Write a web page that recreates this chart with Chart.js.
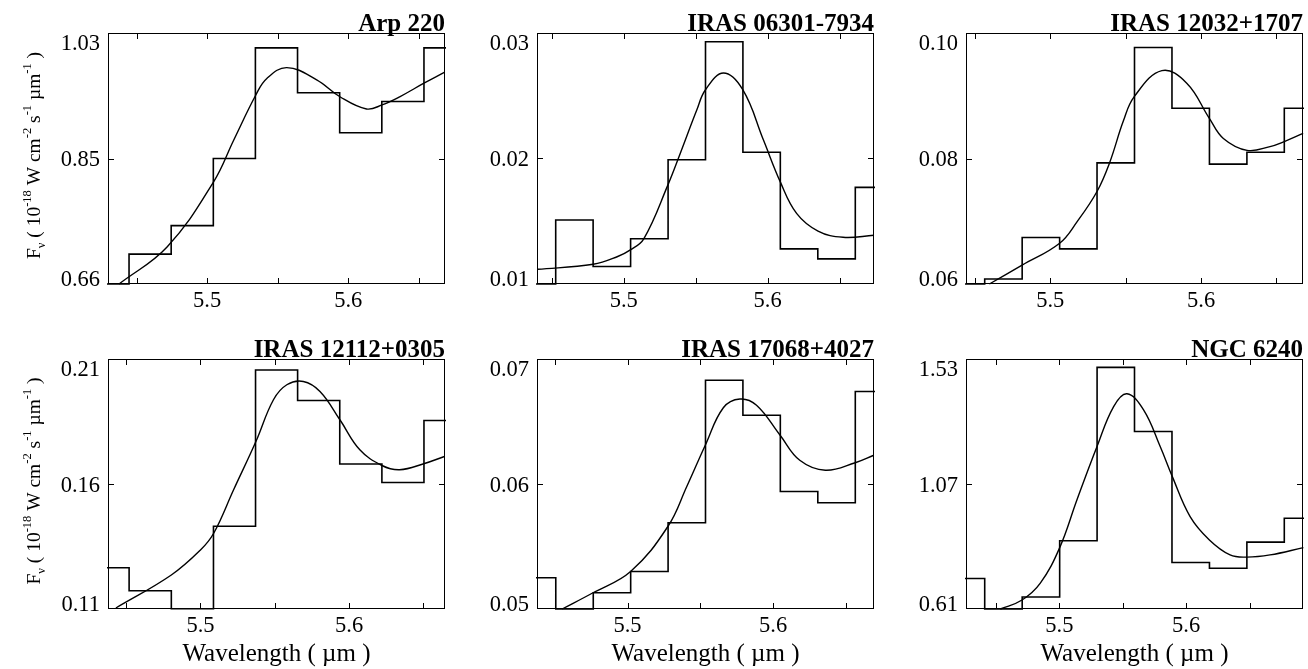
<!DOCTYPE html>
<html lang="en">
<head>
  <meta charset="UTF-8" />
  <title>5.5 micron band</title>
  <script src="https://cdn.jsdelivr.net/npm/chart.js@4.4.1/dist/chart.umd.min.js"></script>
  <style>
    body { margin: 0; background: #fff; }
    #wrap { position: relative; width: 1308px; height: 669px; overflow: hidden; }
    #wrap canvas { position: absolute; }
  </style>
</head>
<body>
  <div id="wrap"></div>
  <script>
// source names, one per panel
const names = ['Arp 220', 'IRAS 06301-7934', 'IRAS 12032+1707',
               'IRAS 12112+0305', 'IRAS 17068+4027', 'NGC 6240']

// binned spectra: bin centres (micron) and flux
const wave1 = [5.4298, 5.4596, 5.4895, 5.5193, 5.5491, 5.5790, 5.6088, 5.6387, 5.6685]
const flux1 = [0.660, 0.704, 0.746, 0.845, 1.008, 0.942, 0.883, 0.929, 1.008]
const wave2 = [5.4397, 5.4657, 5.4917, 5.5178, 5.5438, 5.5698, 5.5958, 5.6218, 5.6479, 5.6739]
const flux2 = [0.0100, 0.0151, 0.0114, 0.0136, 0.0199, 0.0293, 0.0205, 0.0128, 0.0120, 0.0177]
const wave3 = [5.4441, 5.4689, 5.4938, 5.5186, 5.5434, 5.5683, 5.5931, 5.6180, 5.6428, 5.6676]
const flux3 = [0.0600, 0.0608, 0.0674, 0.0656, 0.0793, 0.0977, 0.0880, 0.0791, 0.0810, 0.0880]
const wave4 = [5.4378, 5.4662, 5.4946, 5.5229, 5.5512, 5.5795, 5.6079, 5.6362, 5.6645]
const flux4 = [0.1265, 0.1173, 0.1101, 0.1431, 0.2056, 0.1934, 0.1680, 0.1606, 0.1854]
const wave5 = [5.4378, 5.4636, 5.4893, 5.5150, 5.5407, 5.5664, 5.5921, 5.6178, 5.6436, 5.6693]
const flux5 = [0.0525, 0.0500, 0.0513, 0.0530, 0.0569, 0.0683, 0.0655, 0.0594, 0.0585, 0.0674]
const wave6 = [5.4264, 5.4559, 5.4855, 5.5150, 5.5445, 5.5740, 5.6036, 5.6331, 5.6626, 5.6921]
const flux6 = [0.722, 0.610, 0.654, 0.861, 1.499, 1.263, 0.781, 0.760, 0.856, 0.944]

// fitted profiles
const fitX1 = [5.4376, 5.4718, 5.5047, 5.5188, 5.5346, 5.5423, 5.5565, 5.5776, 5.5941, 5.6129, 5.6239, 5.6364, 5.6536, 5.6680]
const fitY1 = [0.660, 0.715, 0.811, 0.872, 0.939, 0.963, 0.979, 0.961, 0.936, 0.918, 0.924, 0.936, 0.956, 0.972]
const fitX2 = [5.4400, 5.4788, 5.4954, 5.5046, 5.5139, 5.5307, 5.5393, 5.5508, 5.5568, 5.5693, 5.5827, 5.5970, 5.6087, 5.6201, 5.6350, 5.6524, 5.6738]
const fitY2 = [0.01117, 0.01157, 0.01217, 0.01272, 0.01360, 0.01790, 0.02042, 0.02388, 0.02548, 0.02681, 0.02548, 0.02149, 0.01816, 0.01563, 0.01422, 0.01372, 0.01388]
const fitX3 = [5.4596, 5.4813, 5.5062, 5.5177, 5.5309, 5.5393, 5.5485, 5.5558, 5.5740, 5.5905, 5.6055, 5.6148, 5.6305, 5.6457, 5.6552, 5.6677]
const fitY3 = [0.0600, 0.0630, 0.0665, 0.0699, 0.0747, 0.0793, 0.0860, 0.0899, 0.0940, 0.0920, 0.0864, 0.0832, 0.0813, 0.0819, 0.0827, 0.0840]
const fitX4 = [5.4431, 5.4804, 5.5000, 5.5089, 5.5223, 5.5373, 5.5491, 5.5581, 5.5692, 5.5804, 5.5938, 5.6072, 5.6221, 5.6340, 5.6502, 5.6641]
const fitY4 = [0.1104, 0.1236, 0.1336, 0.1403, 0.1577, 0.1770, 0.1937, 0.1997, 0.2010, 0.1970, 0.1857, 0.1737, 0.1674, 0.1657, 0.1681, 0.1710]
const fitX5 = [5.4551, 5.4763, 5.5021, 5.5277, 5.5407, 5.5534, 5.5658, 5.5772, 5.5886, 5.6048, 5.6183, 5.6359, 5.6564, 5.6692]
const fitY5 = [0.0500, 0.0513, 0.0530, 0.0566, 0.0598, 0.0631, 0.0661, 0.0668, 0.0663, 0.0639, 0.0619, 0.0611, 0.0617, 0.0623]
const fitX6 = [5.4535, 5.4706, 5.4850, 5.5002, 5.5139, 5.5297, 5.5428, 5.5533, 5.5664, 5.5795, 5.5890, 5.6031, 5.6183, 5.6346, 5.6480, 5.6661, 5.6924]
const fitY6 = [0.610, 0.643, 0.705, 0.835, 1.012, 1.208, 1.355, 1.402, 1.343, 1.208, 1.098, 0.950, 0.864, 0.809, 0.801, 0.809, 0.836]

// y ranges and tick labels
const yRanges = [[0.66, 1.03], [0.01, 0.03], [0.06, 0.10], [0.11, 0.21], [0.05, 0.07], [0.61, 1.53]]
const yTickLabels = [['0.66', '0.85', '1.03'], ['0.01', '0.02', '0.03'], ['0.06', '0.08', '0.10'],
                     ['0.11', '0.16', '0.21'], ['0.05', '0.06', '0.07'], ['0.61', '1.07', '1.53']]
const xMajor = [5.5, 5.6]
const xMinor = [5.45, 5.55, 5.65]

const waves = [wave1, wave2, wave3, wave4, wave5, wave6]
const fluxes = [flux1, flux2, flux3, flux4, flux5, flux6]
const fitXs = [fitX1, fitX2, fitX3, fitX4, fitX5, fitX6]
const fitYs = [fitY1, fitY2, fitY3, fitY4, fitY5, fitY6]

const SERIF = "'Liberation Serif', 'Times New Roman', serif"
const colLeft = [108, 537, 966]
const rowTop = [33, 359]
const plotW = 337
const plotH = [251, 250]
const padR = 4

// histogram outline: a point at each left bin edge, plus the last right edge
function stepPoints(w, f) {
  const pts = []
  for (let i = 0; i < w.length; i++) {
    const left = i === 0 ? w[0] - (w[1] - w[0]) / 2 : (w[i - 1] + w[i]) / 2
    pts.push({ x: left, y: f[i] })
  }
  const n = w.length
  pts.push({ x: w[n - 1] + (w[n - 1] - w[n - 2]) / 2, y: f[n - 1] })
  return pts
}

// frame, inward ticks, title and y tick labels
const framePlugin = {
  id: 'frame',
  afterDraw(chart, args, opts) {
    const { ctx, chartArea: a, scales: { x, y } } = chart
    ctx.save()
    ctx.strokeStyle = '#000'
    ctx.lineWidth = 1
    ctx.strokeRect(a.left + 0.5, a.top + 0.5, a.width - 1, a.height - 1)
    ctx.beginPath()
    xMajor.concat(xMinor).forEach(v => {
      const px = Math.round(x.getPixelForValue(v)) + 0.5
      ctx.moveTo(px, a.bottom); ctx.lineTo(px, a.bottom - 6)
      ctx.moveTo(px, a.top); ctx.lineTo(px, a.top + 6)
    })
    const [lo, hi] = yRanges[opts.idx]
    const ymid = Math.round(y.getPixelForValue((lo + hi) / 2)) + 0.5
    ctx.moveTo(a.left, ymid); ctx.lineTo(a.left + 6, ymid)
    ctx.moveTo(a.right, ymid); ctx.lineTo(a.right - 6, ymid)
    ctx.stroke()

    ctx.fillStyle = '#000'
    ctx.font = 'bold 25px ' + SERIF
    ctx.textAlign = 'right'
    ctx.textBaseline = 'alphabetic'
    ctx.fillText(names[opts.idx], a.right, a.top - 2)

    ctx.font = '22.5px ' + SERIF
    const vals = [lo, (lo + hi) / 2, hi]
    vals.forEach((v, k) => {
      let cy = y.getPixelForValue(v)
      cy = Math.min(Math.max(cy, a.top + 9), a.bottom - 6)
      ctx.fillText(yTickLabels[opts.idx][k], a.left - 8, cy + 7.5)
    })

    if (opts.ytitle) {
      const parts = [['F', 0], ['\u03bd', 1], [' ( 10', 0], ['-18', 2], [' W cm', 0], ['-2', 2],
                     [' s', 0], ['-1', 2], [' \u00b5m', 0], ['-1', 2], [' )', 0]]
      const fontFor = k => (k === 0 ? '19.5px ' : '12.5px ') + SERIF
      let total = 0
      parts.forEach(p => { ctx.font = fontFor(p[1]); total += ctx.measureText(p[0]).width })
      ctx.translate(40, (a.top + a.bottom) / 2 - 3)
      ctx.rotate(-Math.PI / 2)
      ctx.textAlign = 'left'
      let cx = -total / 2
      parts.forEach(p => {
        ctx.font = fontFor(p[1])
        const dy = p[1] === 1 ? 5 : p[1] === 2 ? -9 : 0
        ctx.fillText(p[0], cx, dy)
        cx += ctx.measureText(p[0]).width
      })
    }
    ctx.restore()
  }
}

const wrap = document.getElementById('wrap')

names.forEach((name, i) => {
  const col = i % 3
  const row = Math.floor(i / 3)
  const padL = col === 0 ? 108 : 86
  const padT = row === 0 ? 33 : 35
  const padB = row === 0 ? 40 : 60
  const canvas = document.createElement('canvas')
  canvas.width = padL + plotW + padR
  canvas.height = padT + plotH[row] + padB
  canvas.style.left = (colLeft[col] - padL) + 'px'
  canvas.style.top = (rowTop[row] - padT) + 'px'
  wrap.appendChild(canvas)

  const w = waves[i]
  const fit = fitXs[i].map((v, k) => ({ x: v, y: fitYs[i][k] }))

  new Chart(canvas.getContext('2d'), {
    type: 'line',
    data: {
      datasets: [{
        data: stepPoints(w, fluxes[i]),
        stepped: 'before',
        borderColor: '#000',
        borderWidth: 1.6,
        pointRadius: 0,
        clip: 1
      }, {
        data: fit,
        tension: 0.4,
        borderColor: '#000',
        borderWidth: 1.4,
        pointRadius: 0,
        clip: 1
      }]
    },
    options: {
      responsive: false,
      animation: false,
      devicePixelRatio: 1,
      layout: { padding: { left: padL, top: padT, right: padR, bottom: 0 } },
      plugins: {
        legend: { display: false },
        tooltip: { enabled: false },
        frame: { idx: i, ytitle: col === 0 }
      },
      scales: {
        x: {
          type: 'linear',
          min: w[0],
          max: w[w.length - 1],
          grid: { display: false, drawTicks: false },
          border: { display: false },
          afterBuildTicks: s => { s.ticks = xMajor.map(v => ({ value: v })) },
          afterFit: s => { s.height = padB },
          ticks: {
            color: '#000',
            font: { family: SERIF, size: 22.5 },
            padding: 4,
            maxRotation: 0,
            autoSkip: false,
            callback: v => v.toFixed(1)
          },
          title: {
            display: row === 1,
            text: 'Wavelength ( \u00b5m )',
            color: '#000',
            font: { family: SERIF, size: 25 },
            padding: 0
          }
        },
        y: { display: false, min: yRanges[i][0], max: yRanges[i][1] }
      }
    },
    plugins: [framePlugin]
  })
})
  </script>
</body>
</html>
